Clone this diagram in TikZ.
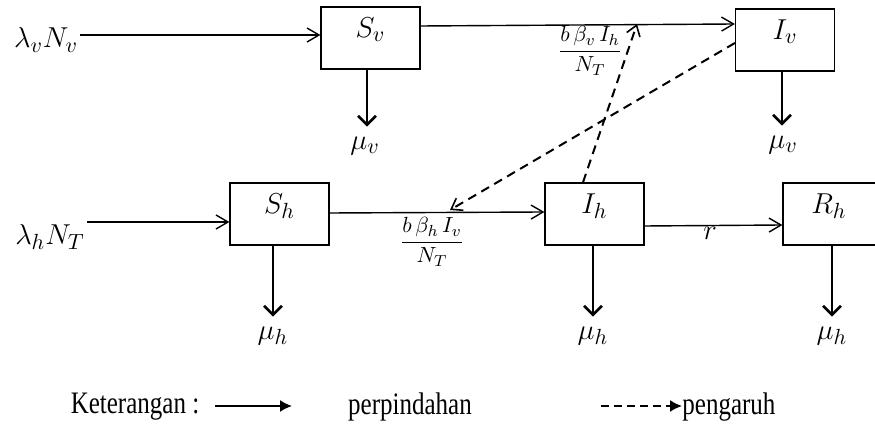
\documentclass[tikz,border=0pt]{standalone}
\usepackage{amsmath}
\usepackage{fontspec}
\setmainfont{Liberation Serif}
\usetikzlibrary{arrows.meta}
\newcommand{\talltext}[1]{\scalebox{1}[1.25]{#1}}
\begin{document}
\begin{tikzpicture}[x=0.5pt,y=-0.5pt,
  box/.style={draw,line width=0.6pt,minimum width=49.5pt,minimum height=31pt,inner sep=0pt},
  flow/.style={line width=0.7pt,-{Straight Barb[length=6pt,width=7pt,line width=0.7pt]}},
  loss/.style={line width=1.3pt,-{Straight Barb[length=4.5pt,width=9pt,line width=1.3pt]}},
  infl/.style={line width=1pt,dash pattern=on 4.5pt off 3pt,-{Straight Barb[length=5pt,width=7pt,line width=0.8pt]}},
  mlab/.style={font=\fontsize{15}{17}\selectfont,inner sep=1pt},
  flab/.style={font=\fontsize{11}{13}\selectfont,inner sep=0pt},
  leg/.style={font=\fontsize{12.5}{15}\selectfont,inner sep=0pt},
  lflow/.style={line width=0.8pt,-{Latex[length=6pt,width=6pt]}},
  linfl/.style={line width=0.8pt,dash pattern=on 4pt off 2.5pt,-{Latex[length=6pt,width=6pt]}}]
\useasboundingbox (0,0) rectangle (875,432);

% boxes
\node[box,label={[mlab,yshift=4pt]center:$S_v$}] (Sv) at (370.5,38) {};
\node[box,label={[mlab,yshift=4pt]center:$I_v$}] (Iv) at (785,40) {};
\node[box,label={[mlab,yshift=4pt]center:$S_h$}] (Sh) at (279.5,214) {};
\node[box,label={[mlab,yshift=4pt]center:$I_h$}] (Ih) at (594.5,214) {};
\node[box,minimum width=60pt,label={[mlab,yshift=4pt,xshift=-7pt]center:$R_h$}] (Rh) at (843,214) {};

% input labels
\node[mlab] (lamv) at (46,40) {$\lambda_v N_v$};
\node[mlab] (lamh) at (50,237) {$\lambda_h N_T$};

% loss labels
\node[mlab] (muv1) at (365,146) {$\mu_v$};
\node[mlab] (muv2) at (783,145) {$\mu_v$};
\node[mlab] (muh1) at (273,336) {$\mu_h$};
\node[mlab] (muh2) at (593,336) {$\mu_h$};
\node[mlab] (muh3) at (832,336) {$\mu_h$};

% rate labels
\node[flab] (fv) at (590,51) {$\dfrac{b\,\beta_v\, I_h}{N_T}$};
\node[flab] (fh) at (432,242) {$\dfrac{b\,\beta_h\, I_v}{N_T}$};
\node[mlab] (r) at (710,233) {$r$};

% transfers
\draw[flow] (lamv.east |- 0,35) -- (Sv.west |- 0,35);
\draw[flow] (Sv.east |- 0,26) -- (Iv.west |- 0,24);
\draw[flow] (lamh.east |- 0,222) -- (Sh.west |- 0,222);
\draw[flow] (Sh.east |- 0,213) -- (Ih.west |- 0,212);
\draw[flow] (Ih.east |- 0,226) -- (Rh.west |- 0,225);

% losses
\draw[loss] (Sv.south -| 367,0) -- ([yshift=4pt]muv1.north -| 367,0);
\draw[loss] (Iv.south -| 782,0) -- ([yshift=4pt]muv2.north -| 782,0);
\draw[loss] (Sh.south -| 273,0) -- ([yshift=4pt]muh1.north -| 273,0);
\draw[loss] (Ih.south -| 593,0) -- ([yshift=4pt]muh2.north -| 593,0);
\draw[loss] (Rh.south -| 832,0) -- ([yshift=4pt]muh3.north -| 832,0);

% influences
\coordinate (tipv) at (637,24);
\coordinate (tiph) at (450,210);
\draw[infl] (Ih.north -| 583,0) -- (tipv);
\draw[infl] (Iv.west |- 0,43) -- (tiph);

% legend
\node[leg] (ket) at (135,407) {\talltext{Keterangan :}};
\coordinate (l1a) at (215,406);
\coordinate (l1b) at (292,406);
\draw[lflow] (l1a) -- (l1b);
\node[leg] (perp) at (410,407) {\talltext{perpindahan}};
\coordinate (l2a) at (601,406);
\coordinate (l2b) at (682,406);
\draw[linfl] (l2a) -- (l2b);
\node[leg,anchor=west] (peng) at (682,407) {\talltext{pengaruh}};
\end{tikzpicture}
\end{document}
